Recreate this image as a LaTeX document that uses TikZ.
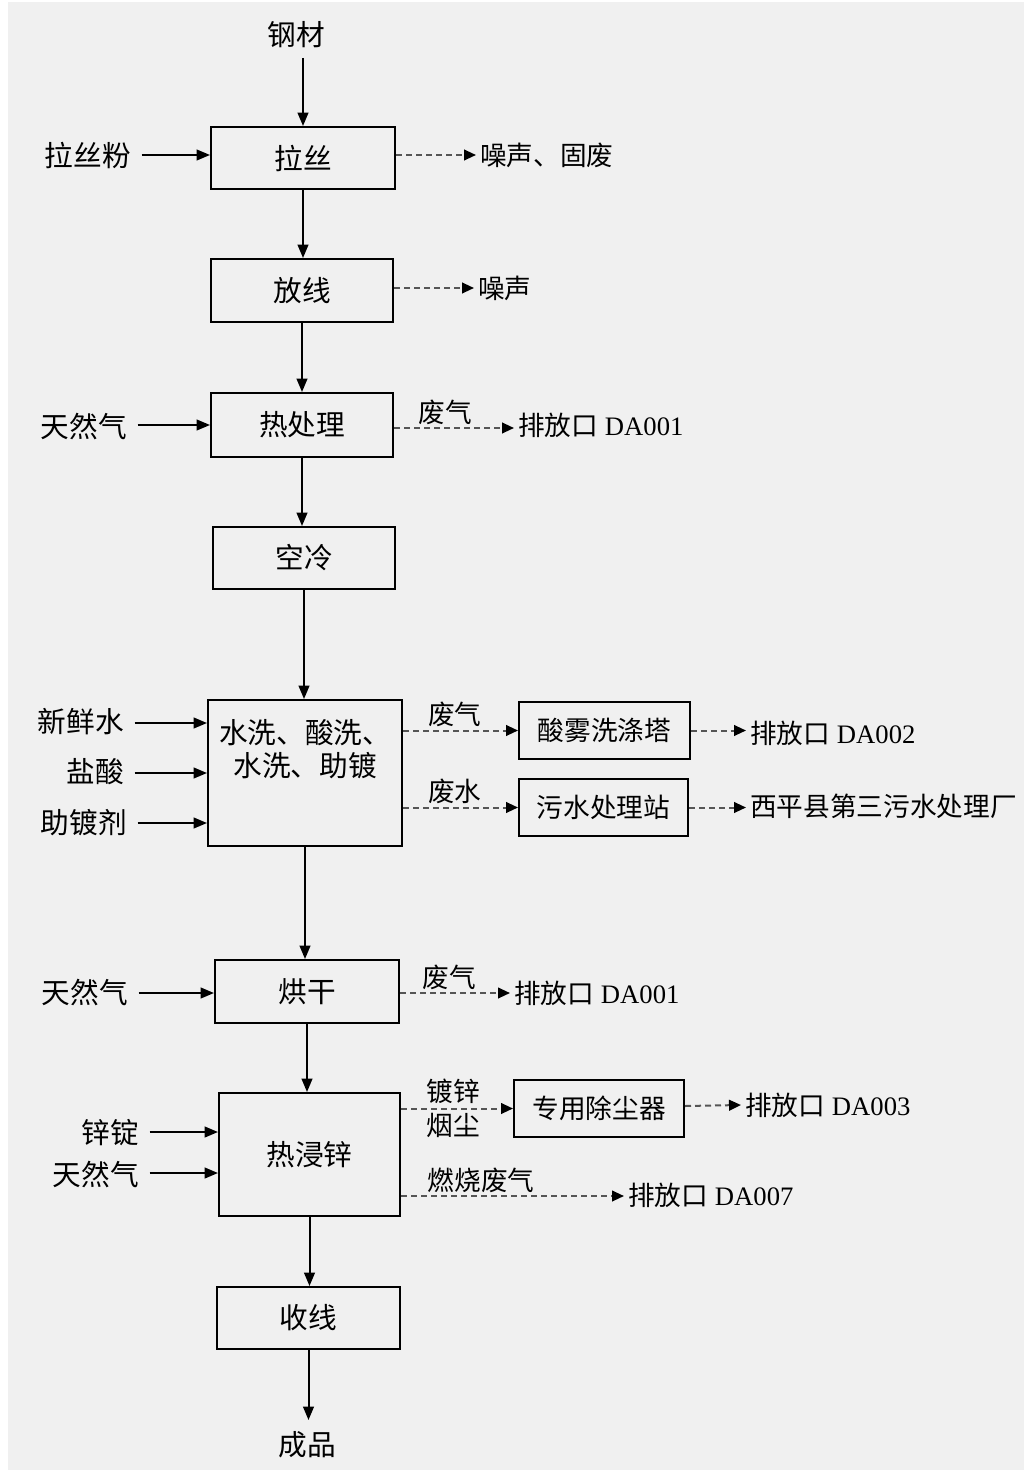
\documentclass[tikz,border=0pt]{standalone}
\usepackage{fontspec}
\setmainfont{Liberation Serif}
\newfontfamily\cjk{Noto Sans CJK SC}
\usetikzlibrary{arrows.meta}
\definecolor{bg}{HTML}{F0F0F0}
\definecolor{dgray}{HTML}{555555}
\tikzset{
  box/.style={draw=black, line width=1.5pt, fill=none, font=\cjk\fontsize{21.5}{25}\selectfont, inner sep=0pt},
  boxs/.style={box, font=\cjk\fontsize{20}{24}\selectfont},
  lbl/.style={font=\cjk\fontsize{21.5}{25}\selectfont, inner sep=3pt},
  lbls/.style={font=\cjk\fontsize{20}{24}\selectfont, inner sep=3pt},
  lbld/.style={font=\fontsize{20}{24}\selectfont, inner sep=3pt},
  arr/.style={line width=1.5pt, -{Triangle[length=10pt,width=8pt]}},
  darr/.style={draw=dgray, line width=1.5pt, dash pattern=on 4.5pt off 3pt, -{Triangle[length=9pt,width=8pt,black]}},
}
\begin{document}
\begin{tikzpicture}[x=0.75pt,y=-0.75pt]
\useasboundingbox (0,0) rectangle (1024,1476);
\fill[white] (0,0) rectangle (1024,1476);
\fill[bg] (8,2) rectangle (1024,1470);

% main process boxes
\node[box, minimum width=138pt, minimum height=46.5pt] (lasi) at (303,158) {拉丝};
\node[box, minimum width=136.5pt, minimum height=47.25pt] (fangxian) at (302,290.5) {放线};
\node[box, minimum width=136.5pt, minimum height=48pt] (rechuli) at (302,425) {热处理};
\node[box, minimum width=136.5pt, minimum height=46.5pt] (kongleng) at (304,558) {空冷};
\node[box, minimum width=145.5pt, minimum height=109.5pt] (shuixi) at (305,773) {};
\node[lbl, align=center] (shuixiT) at (305,749) {水洗、酸洗、\\水洗、助镀};
\node[box, minimum width=138pt, minimum height=47.25pt] (honggan) at (307,991.5) {烘干};
\node[box, minimum width=135.75pt, minimum height=92.25pt] (rejinxin) at (309.5,1154.5) {热浸锌};
\node[box, minimum width=137.25pt, minimum height=46.5pt] (shouxian) at (308.5,1318) {收线};

% side treatment boxes
\node[boxs, minimum width=128.25pt, minimum height=42.75pt] (suanwu) at (604.5,730.5) {酸雾洗涤塔};
\node[boxs, minimum width=126.75pt, minimum height=42.75pt] (wushui) at (603.5,807.5) {污水处理站};
\node[boxs, minimum width=127.5pt, minimum height=42.75pt] (chuchen) at (599,1108.5) {专用除尘器};

% top / bottom
\node[lbl] (gangcai) at (296,35) {钢材};
\node[lbl] (chengpin) at (307,1445) {成品};

% inputs
\node[lbl, anchor=east] (lasifen) at (135,155) {拉丝粉};
\node[lbl, anchor=east] (tianran1) at (131,427) {天然气};
\node[lbl, anchor=east] (xinxian) at (128,722) {新鲜水};
\node[lbl, anchor=east] (yansuan) at (128,772) {盐酸};
\node[lbl, anchor=east] (zhudu) at (131,823) {助镀剂};
\node[lbl, anchor=east] (tianran2) at (132,993) {天然气};
\node[lbl, anchor=east] (xinding) at (143,1133) {锌锭};
\node[lbl, anchor=east] (tianran3) at (143,1175) {天然气};

% outputs
\node[lbls, anchor=west] (zaosheng1) at (476,155) {噪声、固废};
\node[lbls, anchor=west] (zaosheng2) at (474,288) {噪声};
\node[lbld, anchor=west] (da001a) at (514,425) {{\cjk 排放口} DA001};
\node[lbld, anchor=west] (da002) at (746,733) {{\cjk 排放口} DA002};
\node[lbls, anchor=west] (xiping) at (746,806) {西平县第三污水处理厂};
\node[lbld, anchor=west] (da001b) at (510,993) {{\cjk 排放口} DA001};
\node[lbld, anchor=west] (da003) at (741,1105) {{\cjk 排放口} DA003};
\node[lbld, anchor=west] (da007) at (624,1195) {{\cjk 排放口} DA007};

% main flow
\draw[arr] (lasi.north |- 0,58) -- (lasi.north);
\draw[arr] (lasi.south) -- (lasi.south |- fangxian.north);
\draw[arr] (fangxian.south) -- (fangxian.south |- rechuli.north);
\draw[arr] (rechuli.south) -- (rechuli.south |- kongleng.north);
\draw[arr] (kongleng.south) -- (kongleng.south |- shuixi.north);
\draw[arr] (shuixi.south) -- (shuixi.south |- honggan.north);
\draw[arr] (honggan.south) -- (honggan.south |- rejinxin.north);
\draw[arr] (rejinxin.south) -- (rejinxin.south |- shouxian.north);
\draw[arr] (shouxian.south) -- (shouxian.south |- 0,1420);

% inputs arrows
\draw[arr] ([xshift=5pt]lasifen.east) -- (lasifen.east -| lasi.west);
\draw[arr] ([xshift=5pt]tianran1.east |- 0,425) -- (rechuli.west |- 0,425);
\draw[arr] ([xshift=5pt]xinxian.east |- 0,723) -- (shuixi.west |- 0,723);
\draw[arr] ([xshift=5pt]yansuan.east |- 0,773) -- (shuixi.west |- 0,773);
\draw[arr] ([xshift=5pt]zhudu.east |- 0,823) -- (shuixi.west |- 0,823);
\draw[arr] ([xshift=5pt]tianran2.east) -- (tianran2.east -| honggan.west);
\draw[arr] ([xshift=5pt]xinding.east |- 0,1132) -- (rejinxin.west |- 0,1132);
\draw[arr] ([xshift=5pt]tianran3.east |- 0,1173) -- (rejinxin.west |- 0,1173);

% outputs
\draw[darr] (lasi.east |- 0,155) -- (zaosheng1.west);
\draw[darr] (fangxian.east |- 0,288) -- (zaosheng2.west);
\draw[darr] (rechuli.east |- 0,428) -- (da001a.west |- 0,428)
  node[lbls, pos=0.43, above=-1pt] (fq1) {废气};
\draw[darr] (shuixi.east |- suanwu.west) -- (suanwu.west)
  node[lbls, pos=0.45, above=-1pt] (fq2) {废气};
\draw[darr] (shuixi.east |- wushui.west) -- (wushui.west)
  node[lbls, pos=0.45, above=-1pt] (fs) {废水};
\draw[darr] (suanwu.east) -- (da002.west |- suanwu.east);
\draw[darr] (wushui.east) -- (xiping.west |- wushui.east);
\draw[darr] (honggan.east |- 0,993) -- (da001b.west)
  node[lbls, pos=0.45, above=-1pt] (fq3) {废气};
\draw[darr] (rejinxin.east |- chuchen.west) -- (chuchen.west)
  node[lbls, inner sep=0pt, pos=0.47, above=3pt] (dx) {镀锌}
  node[lbls, inner sep=0pt, pos=0.47, below=3pt] (yc) {烟尘};
\draw[darr] (chuchen.east |- 0,1106) -- (da003.west);
\draw[darr] (rejinxin.east |- 0,1196) -- (da007.west |- 0,1196)
  node[lbls, pos=0.36, above=-1pt] (rs) {燃烧废气};
\end{tikzpicture}
\end{document}
